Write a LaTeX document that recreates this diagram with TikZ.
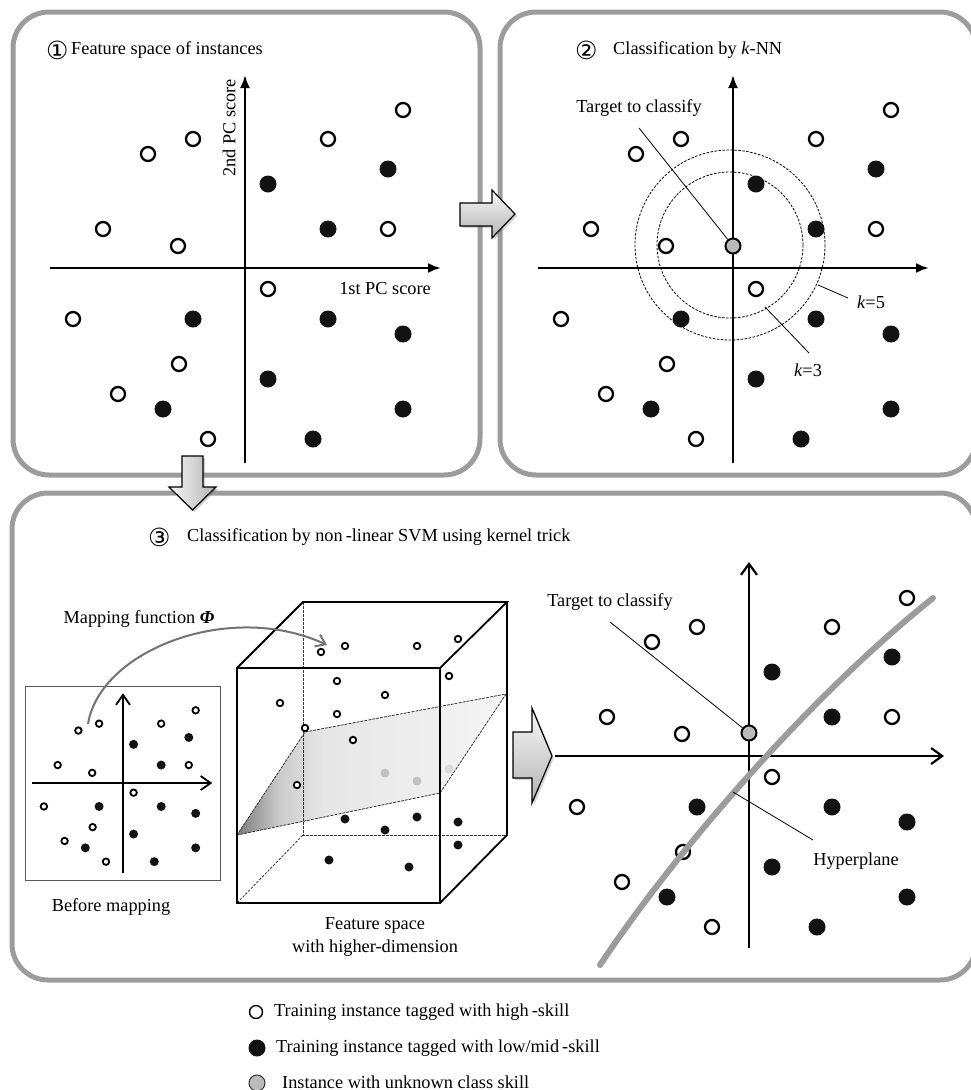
\documentclass[tikz,border=0pt]{standalone}
\usepackage{fontspec}
\setmainfont{Liberation Serif}
\newfontfamily\symf{DejaVu Sans}
\usetikzlibrary{arrows.meta,shadows}
\definecolor{panelgray}{HTML}{9C9C9C}
\definecolor{tgray}{HTML}{BBBBBB}
\pgfdeclarehorizontalshading{planeshade}{100bp}{color(0bp)=(black!52); color(25bp)=(black!52); color(33bp)=(black!20); color(41bp)=(black!10); color(75bp)=(black!4); color(100bp)=(black!4)}
\tikzset{
 panel/.style={draw=panelgray, line width=5pt, rounded corners=36pt},
 op/.style={circle, draw=black, line width=2.3pt, fill=white, minimum size=14pt, inner sep=0pt},
 fp/.style={circle, fill=black!93, minimum size=17pt, inner sep=0pt},
 tp/.style={circle, draw=black, line width=2pt, fill=tgray, minimum size=15pt, inner sep=0pt},
 sop/.style={circle, draw=black, line width=1.8pt, fill=white, minimum size=6.5pt, inner sep=0pt},
 sfp/.style={circle, fill=black!93, minimum size=9pt, inner sep=0pt},
 gp/.style={circle, fill=black!24, minimum size=9pt, inner sep=0pt},
 faxis/.style={line width=2.4pt, -{Latex[length=13pt,width=10pt]}},
 oaxis/.style={line width=2.2pt, -{Straight Barb[length=11pt,width=16pt]}},
 saxis/.style={line width=1.8pt, -{Straight Barb[length=10pt,width=14pt]}},
 lead/.style={line width=0.8pt},
 dcirc/.style={dash pattern=on 2.5pt off 1.5pt, line width=0.8pt},
 cube/.style={line width=1.8pt, line join=miter},
 hidden/.style={line width=0.8pt, draw=black!80, dash pattern=on 2.5pt off 1.5pt},
 blockarrow/.style={draw=black, line width=1.2pt, line join=miter, drop shadow={shadow xshift=2pt, shadow yshift=-2pt, opacity=0.35}},
 lbl/.style={inner sep=0pt},
 circnum/.style={inner sep=0pt, font=\symf\fontsize{25}{25}\selectfont},
}
\newcommand\plotdots[3]{%
 \foreach \a/\b [count=\i] in {158/-158, 83/-129, -52/-129, -97/-114, -142/-39, -67/-22, 143/-39, 23/21, -172/51, -66/96, -127/126, -37/171}
   {\node[#2] (#1o\i) at (\a,\b) {};}
 \foreach \a/\b [count=\i] in {143/-99, 23/-84, 83/-39, -52/51, 83/51, 158/66, 23/111, -82/141, 158/141, 68/171}
   {\node[#3] (#1f\i) at (\a,\b) {};}
}
\begin{document}
\begin{tikzpicture}[x=1pt,y=-1pt, font=\fontsize{18.3}{22}\selectfont]
\useasboundingbox (0,0) rectangle (971,1090);
\fill[white] (0,0) rectangle (971,1090);

% panels
\draw[panel] (13,12) rectangle (480,475);
\draw[panel] (500,12) rectangle (976,475);
\draw[panel] (12,493) rectangle (976,980);

% ---------- panel 1 ----------
\node[circnum, anchor=west] (t1n) at (46,50) {①};
\node[lbl, anchor=west] (t1) at (71,50) {Feature space of instances};
\begin{scope}[shift={(245,268)}]
 \draw[faxis] (-195,0) -- (196,0);
 \draw[faxis] (0,195) -- (0,-193);
 \plotdots{a}{op}{fp}
\end{scope}
\node[lbl, rotate=90] (ylab) at (229,128) {2nd PC score};
\node[lbl] (xlab) at (385,289) {1st PC score};

% ---------- panel 2 ----------
\node[circnum, anchor=west] (t2n) at (575,50) {②};
\node[lbl, anchor=west] (t2) at (613,50) {Classification by \textit{k}-NN};
\draw[dcirc] (730,245) circle[radius=73];
\draw[dcirc] (730,245) circle[radius=95];
\begin{scope}[shift={(733,268)}]
 \draw[faxis] (-195,0) -- (196,0);
 \draw[faxis] (0,195) -- (0,-193);
 \plotdots{b}{op}{fp}
 \node[tp] (btgt) at (0,-22) {};
\end{scope}
\node[lbl] (tg2) at (639,108) {Target to classify};
\coordinate (tg2a) at (639,128);
\draw[lead] (tg2a) -- (btgt);
\node[lbl] (k5) at (871,302) {\textit{k}=5};
\coordinate (k5a) at (818,285);
\coordinate (k5b) at (848,298);
\draw[lead] (k5a) -- (k5b);
\node[lbl] (k3) at (808,370) {\textit{k}=3};
\coordinate (k3a) at (765,307);
\coordinate (k3b) at (809,353);
\draw[lead] (k3a) -- (k3b);

% ---------- panel 3 ----------
\node[circnum, anchor=west] (t3n) at (148,537) {③};
\node[lbl, anchor=west] (t3) at (187,537) {Classification by non\,-linear SVM using kernel trick};

% small box
\node[draw=black!65, line width=1pt, minimum width=195pt, minimum height=194pt, inner sep=0pt] (sbox) at (122.5,783) {};
\begin{scope}[shift={(123,783)}, x=0.46pt, y=-0.46pt]
 \draw[saxis] (-198,0) -- (194,0);
 \draw[saxis] (0,195) -- (0,-195);
 \plotdots{s}{sop}{sfp}
\end{scope}
\node[lbl] (bm) at (111,907) {Before mapping};

% cube
\fill[shading=planeshade] (237,835) -- (305,732) -- (506,694) -- (440,793) -- cycle;
\draw[hidden] (303,602) -- (303,835) -- (507,835);
\draw[hidden] (237,903) -- (303,835);
\draw[hidden] (237,835) -- (305,732) -- (506,694) -- (440,793) -- cycle;
\draw[cube] (237,668) rectangle (440,903);
\draw[cube] (237,668) -- (303,602) -- (507,602) -- (440,668);
\draw[cube] (507,602) -- (507,835) -- (440,903);
\foreach \a/\b [count=\i] in {321/652, 345/646, 417/646, 458/639, 449/676, 337/681, 385/695, 280/703, 337/714, 305/728, 353/740, 297/785}
  {\node[sop] (co\i) at (\a,\b) {};}
\foreach \a/\b [count=\i] in {345/819, 417/817, 458/822, 385/830, 458/845, 329/860, 409/867}
  {\node[sfp] (cf\i) at (\a,\b) {};}
\node[gp] (cg1) at (385,773) {};
\node[gp] (cg2) at (417,781) {};
\node[gp, fill=black!15] (cg3) at (449,769) {};
\node[lbl, align=center, font=\fontsize{18.3}{23}\selectfont] (fs) at (375,937) {Feature space\\with higher-dimension};

% mapping arc
\node[lbl] (mapl) at (139,619) {Mapping function \textbf{\textit{Φ}}};
\coordinate (arcs) at (88,724);
\coordinate (arce) at (327,645);
\draw[draw=black!55, line width=2pt, -{Straight Barb[length=9pt,width=13pt]}] (arcs) .. controls (100,650) and (230,600) .. (arce);

% right plot
\begin{scope}[shift={(749,756)}]
 \draw[oaxis] (-194,0) -- (195,0);
 \draw[oaxis] (0,192) -- (0,-194);
 \plotdots{c}{op}{fp}
 \node[tp] (ctgt) at (0,-23) {};
\end{scope}
\draw[draw=panelgray, line width=6pt, line cap=round] (933,598) .. controls (813,694) and (680,845) .. (600,965);
\node[lbl] (tg3) at (610,602) {Target to classify};
\coordinate (tg3a) at (610,622);
\draw[lead] (tg3a) -- (ctgt);
\node[lbl] (hp) at (856,861) {Hyperplane};
\coordinate (hpa) at (733,792);
\coordinate (hpb) at (813,840);
\draw[lead] (hpa) -- (hpb);

% legend
\node[circle, draw=black, line width=1.4pt, minimum size=13pt, inner sep=0pt] (lg1) at (256,1012) {};
\node[lbl, anchor=west] (lt1) at (274,1012) {Training instance tagged with high\,-skill};
\node[circle, fill=black!93, minimum size=17pt, inner sep=0pt] (lg2) at (257,1048) {};
\node[lbl, anchor=west] (lt2) at (276,1048) {Training instance tagged with low/mid\,-skill};
\node[circle, draw=black!80, line width=1pt, fill=tgray, minimum size=16pt, inner sep=0pt] (lg3) at (257,1083) {};
\node[lbl, anchor=west] (lt3) at (282,1082) {Instance with unknown class skill};

% block arrows
\draw[blockarrow, top color=black!3, bottom color=black!30] (460,203) -- (492,203) -- (492,190) -- (515,214) -- (492,238) -- (492,226) -- (460,226) -- cycle;
\draw[blockarrow, left color=black!3, right color=black!30] (182,456) -- (203,456) -- (203,487) -- (216,487) -- (192.5,510) -- (169,487) -- (182,487) -- cycle;
\draw[blockarrow, top color=black!3, bottom color=black!30] (513,732) -- (532,732) -- (532,708) -- (552,756) -- (532,803) -- (532,778) -- (513,778) -- cycle;
\end{tikzpicture}
\end{document}
